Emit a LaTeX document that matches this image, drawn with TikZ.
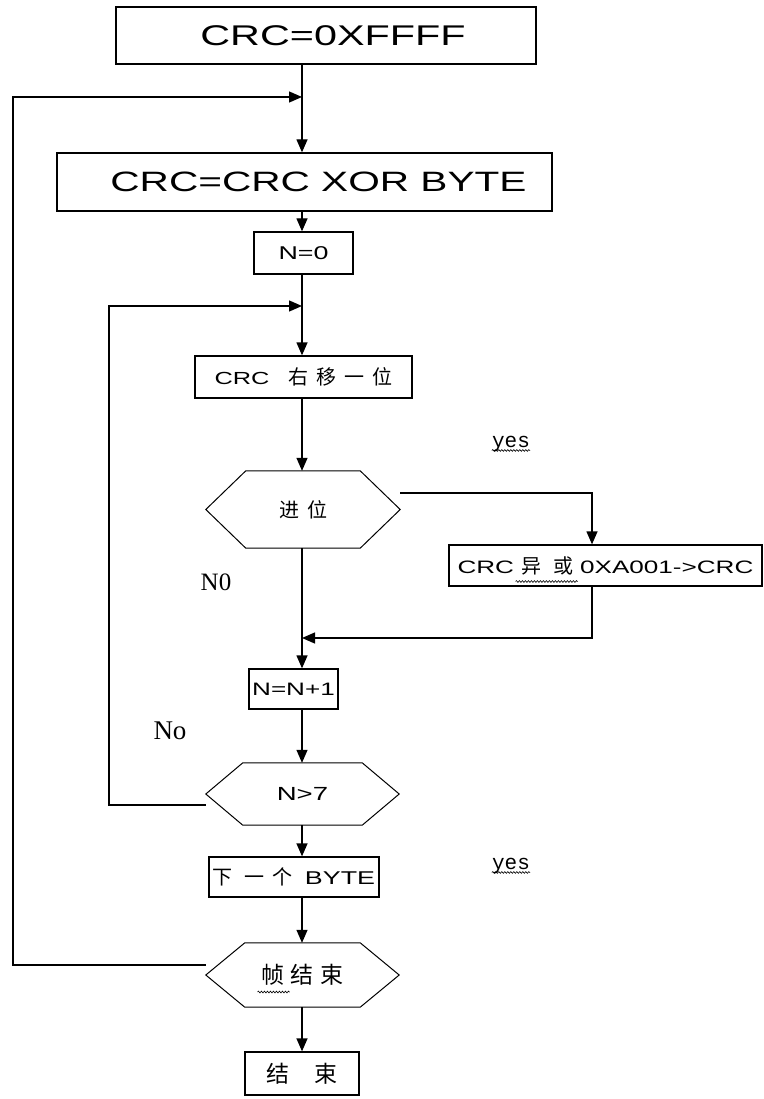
\documentclass[tikz,border=0pt]{standalone}
\usepackage{fontspec}
\setmainfont{Liberation Serif}
\newfontfamily\bxf[FakeStretch=1.45]{Liberation Sans}
\newfontfamily\cjk{Noto Sans CJK SC}
\newfontfamily\monof{Liberation Mono}
\usetikzlibrary{arrows.meta,decorations.pathmorphing,calc}
\newcommand{\fs}[1]{\fontsize{#1}{#1}\selectfont}
\begin{document}
\begin{tikzpicture}[x=1pt,y=-1pt,
  box/.style={draw, line width=1.3pt, inner sep=0pt, anchor=center},
  hexbox/.style={inner sep=0pt, anchor=center},
  hexl/.style={line width=1pt, line join=miter},
  arr/.style={-{Triangle[length=13pt,width=11pt]}, line width=1.3pt},
  lab/.style={inner sep=0pt, anchor=center},
  sq/.style={line width=0.6pt, decorate, decoration={snake, segment length=3pt, amplitude=0.9pt}}]
\useasboundingbox (0,0) rectangle (763,1099);
\fill[white] (0,0) rectangle (763,1099);

% named coordinates
\coordinate (ax) at (302,0);
\coordinate (lo) at (13,0);
\coordinate (li) at (109,0);
\coordinate (xc) at (592,0);
\coordinate (top1) at (302,97);
\coordinate (top2) at (302,306);
\coordinate (mrg) at (302,638);

% boxes
\node[box, minimum width=420pt, minimum height=57pt] (b1) at (326,35.5)
  {\hspace*{14pt}\bxf\fs{28.5}CRC=0XFFFF};
\node[box, minimum width=495pt, minimum height=58pt] (b2) at (304.5,182)
  {\hspace*{28pt}\bxf\fs{28}CRC=CRC XOR BYTE};
\node[box, minimum width=99pt, minimum height=42pt] (n0) at (303.5,253)
  {\bxf\fs{18.5}N=0};
\node[box, minimum width=217pt, minimum height=42pt] (sh) at (303.5,377)
  {\bxf\fs{17.5}CRC\hspace{19pt}{\cjk\fs{20}右\hspace{8pt}移\hspace{8pt}一\hspace{8pt}位}};
\node[box, minimum width=313pt, minimum height=41pt] (xo) at (605.5,565.5)
  {\bxf\fs{18}CRC\hspace{7pt}{\cjk\fs{20}异\hspace{12pt}或}\hspace{7pt}0XA001->CRC};
\node[box, minimum width=89pt, minimum height=40pt] (inc) at (293.5,689)
  {\bxf\fs{18}N=N+1};
\node[box, minimum width=170pt, minimum height=40pt] (nb) at (294,877)
  {{\cjk\fs{20}下\hspace{12pt}一\hspace{8pt}个}\hspace{12pt}\bxf\fs{18.5}BYTE};
\node[box, minimum width=114pt, minimum height=43pt] (end) at (302,1073.5)
  {\cjk\fs{23}结\hspace{25pt}束};

% hexagons
\node[hexbox, minimum width=194pt, minimum height=77pt] (h1) at (303,509.5)
  {\raisebox{-6pt}{\cjk\fs{20}进\hspace{8pt}位}};
\draw[hexl] (h1.west) -- ($(h1.north west)+(40,0)$) -- ($(h1.north east)+(-40,0)$)
  -- (h1.east) -- ($(h1.south east)+(-40,0)$) -- ($(h1.south west)+(40,0)$) -- cycle;
\node[hexbox, minimum width=193pt, minimum height=62pt] (h2) at (302.5,794)
  {\raisebox{-4pt}{\bxf\fs{19}N>7}};
\draw[hexl] (h2.west) -- ($(h2.north west)+(37,0)$) -- ($(h2.north east)+(-37,0)$)
  -- (h2.east) -- ($(h2.south east)+(-37,0)$) -- ($(h2.south west)+(37,0)$) -- cycle;
\node[hexbox, minimum width=193pt, minimum height=64pt] (h3) at (302.5,975)
  {\raisebox{-3pt}{\cjk\fs{23}帧\hspace{7pt}结\hspace{7pt}束}};
\draw[hexl] (h3.west) -- ($(h3.north west)+(39,0)$) -- ($(h3.north east)+(-39,0)$)
  -- (h3.east) -- ($(h3.south east)+(-39,0)$) -- ($(h3.south west)+(39,0)$) -- cycle;

% labels
\node[lab] (yes1) at (511,444) {\monof\fs{21}yes};
\node[lab] (yes2) at (511,866) {\monof\fs{21}yes};
\node[lab] (nzero) at (216,582) {\fs{25}N0};
\node[lab] (nolab) at (170,731) {\fs{27}No};

% spell-check squiggles
\draw[sq] ($(yes1.base west)+(0,3)$) -- ($(yes1.base east)+(0,3)$);
\draw[sq] ($(yes2.base west)+(0,3)$) -- ($(yes2.base east)+(0,3)$);
\draw[sq] ($(xo.center)+(-90,16)$) -- ($(xo.center)+(-28,16)$);
\draw[sq] ($(h3.center)+(-45,17)$) -- ($(h3.center)+(-13,17)$);

% main chain
\draw[arr] (b1.south -| ax) -- (b2.north -| ax);
\draw[arr] (b2.south -| ax) -- (n0.north -| ax);
\draw[arr] (n0.south -| ax) -- (sh.north -| ax);
\draw[arr] (sh.south -| ax) -- (h1.north -| ax);
\draw[arr] (h1.south -| ax) -- (inc.north -| ax);
\draw[arr] (inc.south -| ax) -- (h2.north -| ax);
\draw[arr] (h2.south -| ax) -- (nb.north -| ax);
\draw[arr] (nb.south -| ax) -- (h3.north -| ax);
\draw[arr] (h3.south -| ax) -- (end.north -| ax);

% yes branch
\coordinate (ys) at ($(h1.east)+(0,-16.5)$);
\draw[arr] (ys) -| (xo.north -| xc);
\draw[arr] (xo.south -| xc) |- (mrg);

% inner loop
\coordinate (h2l) at ($(h2.west)+(0,11)$);
\draw[arr] (h2l) -| (li |- top2) -- (top2);

% outer loop
\coordinate (h3l) at ($(h3.west)+(0,-10)$);
\draw[arr] (h3l) -| (lo |- top1) -- (top1);
\end{tikzpicture}
\end{document}
